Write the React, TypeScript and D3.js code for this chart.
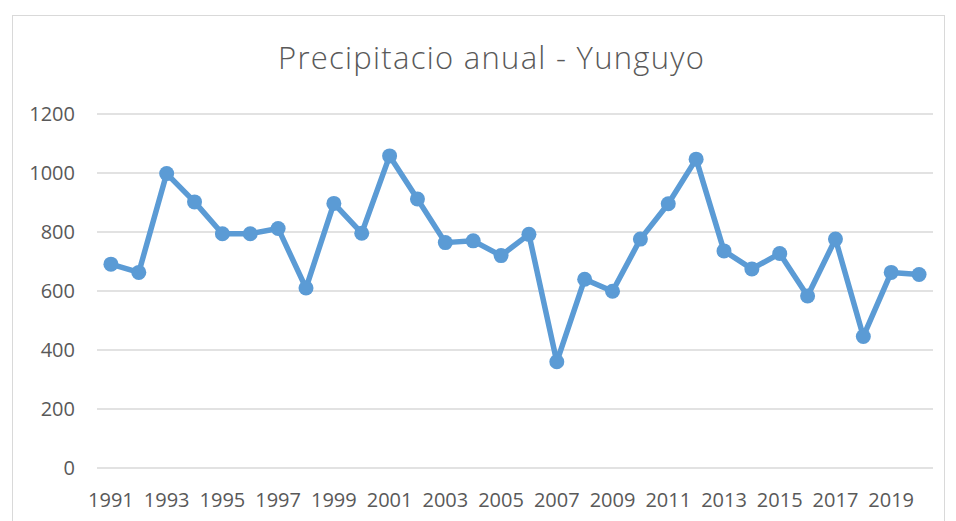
import React from "react";
import * as d3 from "d3";

const years: number[] = [
  1991, 1992, 1993, 1994, 1995, 1996, 1997, 1998, 1999, 2000,
  2001, 2002, 2003, 2004, 2005, 2006, 2007, 2008, 2009, 2010,
  2011, 2012, 2013, 2014, 2015, 2016, 2017, 2018, 2019, 2020,
];
const precip: number[] = [
  691, 663, 998, 902, 794, 794, 812, 610, 897, 796,
  1058, 912, 764, 770, 720, 792, 360, 640, 599, 776,
  896, 1047, 736, 675, 727, 583, 776, 446, 663, 656,
];
const yTicks: number[] = [0, 200, 400, 600, 800, 1000, 1200];
const title = "Precipitacio anual - Yunguyo";

const W = 956;
const H = 521;
const FONT = "'Open Sans', Lato, sans-serif";

export default function App() {
  const left = 97;
  const right = 933;
  const top = 114;
  const bottom = 468;

  const x = d3
    .scaleBand<number>()
    .domain(years)
    .range([left, right])
    .padding(0);
  const y = d3.scaleLinear().domain([0, 1200]).range([bottom, top]);

  const line = d3
    .line<number>()
    .x((_, i) => (x(years[i]) as number) + x.bandwidth() / 2)
    .y((d) => y(d));

  const labelYears = years.filter((_, i) => i % 2 === 0);

  return (
    <svg
      width={W}
      height={H}
      style={{ position: "absolute", left: 0, top: 0, display: "block" }}
    >
      <rect x={0} y={0} width={W} height={H} fill="#ffffff" />
      <rect
        x={12.5}
        y={15.5}
        width={932}
        height={530}
        fill="#ffffff"
        stroke="#d9d9d9"
        strokeWidth={1}
      />
      <text
        x={491}
        y={69}
        textAnchor="middle"
        fontFamily={FONT}
        fontSize={31}
        fontWeight={300}
        fill="#595959"
        textLength={426}
        lengthAdjust="spacing"
      >
        {title}
      </text>
      {yTicks.map((t) => (
        <g key={t}>
          <line
            x1={left}
            x2={right}
            y1={y(t)}
            y2={y(t)}
            stroke="#d9d9d9"
            strokeWidth={1.5}
          />
          <text
            x={75}
            y={y(t)}
            dy="0.36em"
            textAnchor="end"
            fontFamily={FONT}
            fontSize={20}
            fill="#595959"
          >
            {t}
          </text>
        </g>
      ))}
      {labelYears.map((yr) => (
        <text
          key={yr}
          x={(x(yr) as number) + x.bandwidth() / 2}
          y={507}
          textAnchor="middle"
          fontFamily={FONT}
          fontSize={20}
          fill="#595959"
        >
          {yr}
        </text>
      ))}
      <path
        d={line(precip) || ""}
        fill="none"
        stroke="#5b9bd5"
        strokeWidth={5.5}
        strokeLinejoin="round"
        strokeLinecap="round"
      />
      {precip.map((v, i) => (
        <circle
          key={years[i]}
          cx={(x(years[i]) as number) + x.bandwidth() / 2}
          cy={y(v)}
          r={7.5}
          fill="#5b9bd5"
        />
      ))}
    </svg>
  );
}
